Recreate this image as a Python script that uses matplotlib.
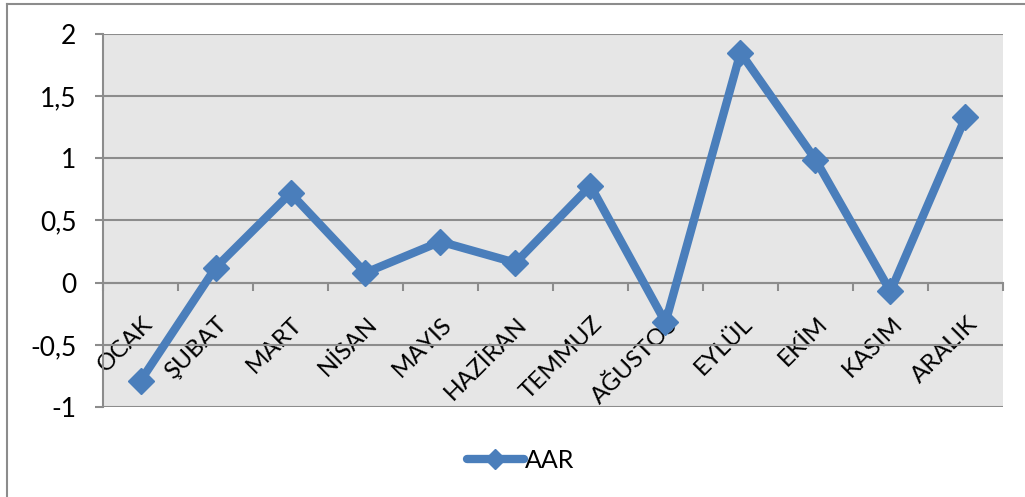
import matplotlib.pyplot as plt
import matplotlib.transforms as mtrans
from matplotlib.lines import Line2D
from matplotlib.ticker import FuncFormatter

# monthly values
months = ["OCAK", "ŞUBAT", "MART", "NİSAN", "MAYIS", "HAZİRAN",
          "TEMMUZ", "AĞUSTOS", "EYLÜL", "EKİM", "KASIM", "ARALIK"]
aar = [-0.79, 0.12, 0.72, 0.08, 0.33, 0.16, 0.78, -0.32, 1.85, 0.99, -0.07, 1.33]

plt.rcParams['font.family'] = ['Lato', 'DejaVu Sans']

fig = plt.figure(figsize=(10.25, 4.97), dpi=100)
ax = fig.add_axes([0.1005, 0.1811, 0.878, 0.7505])

grid_col = '#8c8c8c'
blue = '#4a7ebb'

ax.set_facecolor('#e6e6e6')
ax.set_xlim(-0.5, len(months) - 0.5)
ax.set_ylim(-1, 2)
ax.set_yticks([-1, -0.5, 0, 0.5, 1, 1.5, 2])
ax.yaxis.set_major_formatter(FuncFormatter(lambda v, p: f"{v:g}".replace('.', ',')))
ax.grid(axis='y', color=grid_col, linewidth=1.5)
ax.set_axisbelow(True)

x = list(range(len(months)))
ax.plot(x, aar, color=blue, linewidth=6, marker='D', markersize=13,
        markerfacecolor=blue, markeredgecolor=blue, solid_joinstyle='miter',
        label='AAR', zorder=3)

# category axis crosses at 0
for s in ['top', 'right']:
    ax.spines[s].set_visible(False)
ax.spines['bottom'].set_position(('data', 0))
ax.spines['bottom'].set_color(grid_col)
ax.spines['bottom'].set_linewidth(1.5)
ax.spines['left'].set_color(grid_col)
ax.spines['left'].set_linewidth(1.5)

ax.set_xticks(x)
ax.set_xticklabels(months, rotation=45, ha='right', rotation_mode='anchor', fontsize=17.5)
ax.set_xticks([i - 0.5 for i in range(len(months) + 1)], minor=True)
ax.tick_params(axis='x', which='major', length=0, pad=22)
ax.tick_params(axis='x', which='minor', length=6, width=1.5, color=grid_col, direction='out')
ax.tick_params(axis='y', length=6, width=1.5, color=grid_col, labelsize=19, pad=13)

# nudge labels so they end just right of the category center
off = mtrans.ScaledTranslation(1 / 100, 0, fig.dpi_scale_trans)
for lab in ax.get_xticklabels():
    lab.set_transform(lab.get_transform() + off)

leg = fig.legend(loc='center', bbox_to_anchor=(0.508, 0.073), frameon=False,
                 fontsize=18, handlelength=2.3, handletextpad=0.05)
for h in leg.legend_handles:
    h.set_markersize(10)
    h.set_solid_capstyle('round')

# chart frame: only top and left edges show in the picture
fig.add_artist(Line2D([7 / 1025, 7 / 1025], [0, 1 - 4 / 497], color=grid_col,
                      linewidth=1.5, transform=fig.transFigure))
fig.add_artist(Line2D([7 / 1025, 1], [1 - 4 / 497, 1 - 4 / 497], color=grid_col,
                      linewidth=1.5, transform=fig.transFigure))

fig.savefig('out.png', dpi=100)
